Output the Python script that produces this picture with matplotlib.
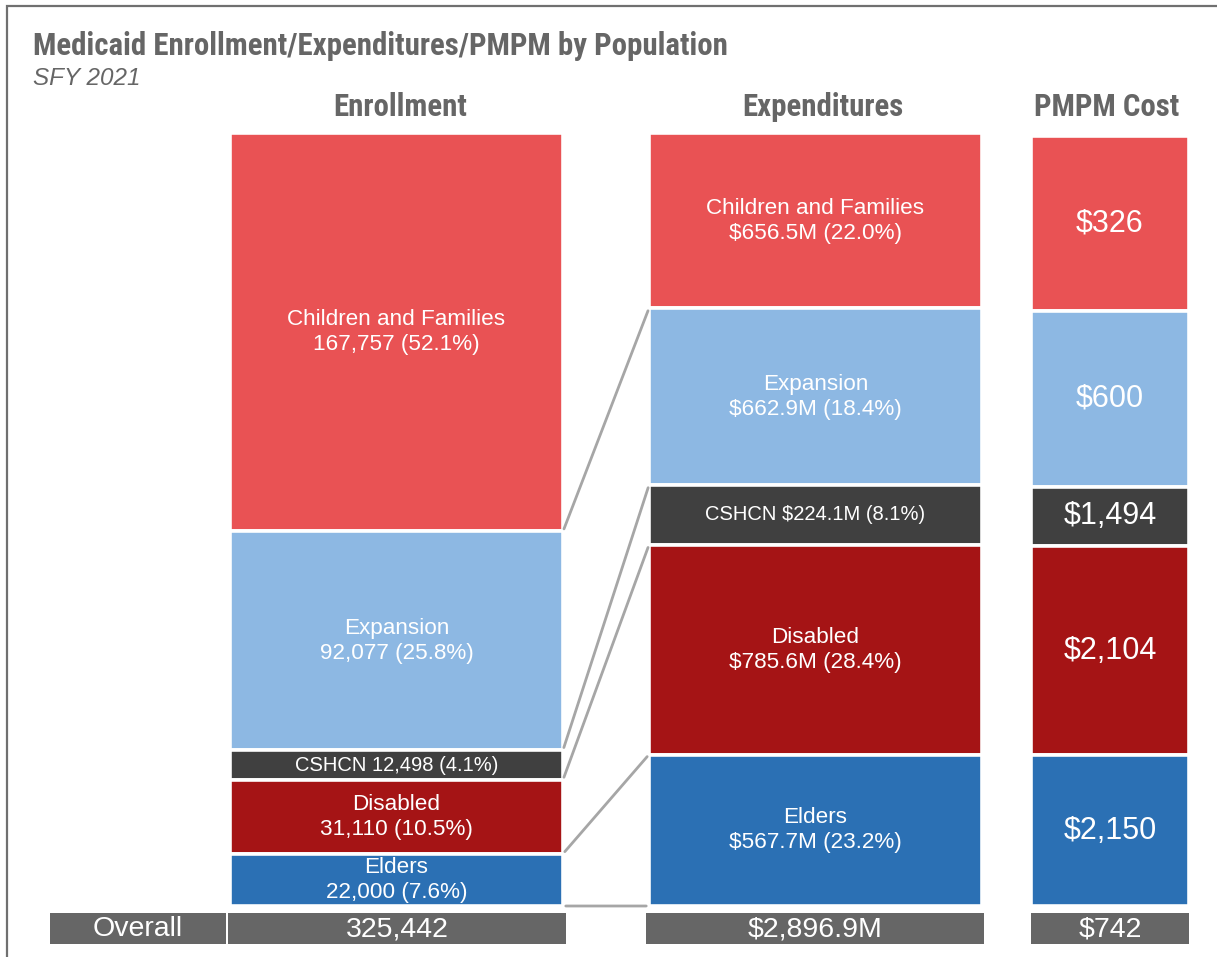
import numpy as np
import matplotlib.pyplot as plt
from matplotlib.patches import Rectangle, ConnectionPatch

# population groups, top to bottom
groups = ['Children and Families', 'Expansion', 'CSHCN', 'Disabled', 'Elders']
colors = ['#E95254', '#8DB8E3', '#404040', '#A51415', '#2B70B4']

enrollment = [167757, 92077, 12498, 31110, 22000]
enroll_pct = ['52.1%', '25.8%', '4.1%', '10.5%', '7.6%']
expend = [656.5, 662.9, 224.1, 785.6, 567.7]          # $M
expend_pct = ['22.0%', '18.4%', '8.1%', '28.4%', '23.2%']
pmpm = [326, 600, 1494, 2104, 2150]

overall_enroll = 325442
overall_expend = 2896.9
overall_pmpm = 742

W, H = 1217, 957
GREY = '#666666'
SANS = ['Liberation Sans', 'DejaVu Sans']
NARROW = ['Roboto Condensed', 'DejaVu Sans']

plt.rcParams['font.family'] = SANS

fig = plt.figure(figsize=(W / 100, H / 100), dpi=100)


def fx(x):
    return x / W


def fy(y):
    return 1 - y / H


def add_col(left, right, top, bottom):
    return fig.add_axes([fx(left), fy(bottom), fx(right - left), (bottom - top) / H])


def stack(ax, values, labels, sizes):
    values = list(values)
    bottoms = np.concatenate([[0], np.cumsum(values)[:-1]])
    ax.bar(0.5, values, width=1, bottom=bottoms, color=colors,
           edgecolor='white', linewidth=2.6)
    ax.set_xlim(0, 1)
    ax.set_ylim(sum(values), 0)
    ax.axis('off')
    for b, v, lab, s in zip(bottoms, values, labels, sizes):
        ax.text(0.5, b + v / 2, lab, ha='center', va='center',
                color='white', fontsize=s, linespacing=1.25)


# labels
en_labels = []
ex_labels = []
for g, v, p, e, q in zip(groups, enrollment, enroll_pct, expend, expend_pct):
    sep = ' ' if g == 'CSHCN' else '\n'
    en_labels.append(f'{g}{sep}{v:,} ({p})')
    ex_labels.append(f'{g}{sep}${e:,.1f}M ({q})')
pm_labels = [f'${v:,}' for v in pmpm]
small = [16.2 if g != 'CSHCN' else 14.5 for g in groups]

ax_en = add_col(230, 563, 133, 906)
ax_ex = add_col(649, 982, 133, 906)
ax_pm = add_col(1031, 1189, 136, 906)

stack(ax_en, enrollment, en_labels, small)
stack(ax_ex, expend, ex_labels, small)
# PMPM column keeps the expenditure proportions
stack(ax_pm, expend, pm_labels, [22] * len(pmpm))

# connectors between enrollment and expenditure boundaries
for a, b in zip(np.cumsum(enrollment), np.cumsum(expend)):
    con = ConnectionPatch(xyA=(1, a), coordsA=ax_en.transData,
                          xyB=(0, b), coordsB=ax_ex.transData,
                          color='#A6A6A6', lw=2, shrinkA=2, shrinkB=2)
    fig.add_artist(con)

# overall row
row_top, row_bot = 913, 944
cells = [(50, 226, 'Overall'),
         (228, 566, f'{overall_enroll:,}'),
         (646, 984, f'${overall_expend:,.1f}M'),
         (1031, 1189, f'${overall_pmpm:,}')]
for l, r, txt in cells:
    fig.add_artist(Rectangle((fx(l), fy(row_bot)), fx(r - l), (row_bot - row_top) / H,
                             facecolor=GREY, edgecolor='none'))
    fig.text(fx((l + r) / 2), fy((row_top + row_bot) / 2 + 1), txt, ha='center',
             va='center', color='white', fontsize=20.5)

# headers
for xc, name in [(400, 'Enrollment'), (823, 'Expenditures'), (1107, 'PMPM Cost')]:
    fig.text(fx(xc), fy(116), name, ha='center', va='baseline',
             color=GREY, fontsize=22.2, fontweight='bold', family=NARROW)

fig.text(fx(33), fy(55), 'Medicaid Enrollment/Expenditures/PMPM by Population',
         ha='left', va='baseline', color=GREY, fontsize=22.2, fontweight='bold',
         family=NARROW)
fig.text(fx(33), fy(85), 'SFY 2021', ha='left', va='baseline', color=GREY,
         fontsize=17.5, style='italic')

# frame around the chart (right and bottom edges fall outside)
fig.add_artist(Rectangle((fx(7), fy(H + 20)), 1.2, (H + 14) / H,
                         facecolor='none', edgecolor='#707070', lw=1.6))

fig.savefig('out.png', dpi=100)
